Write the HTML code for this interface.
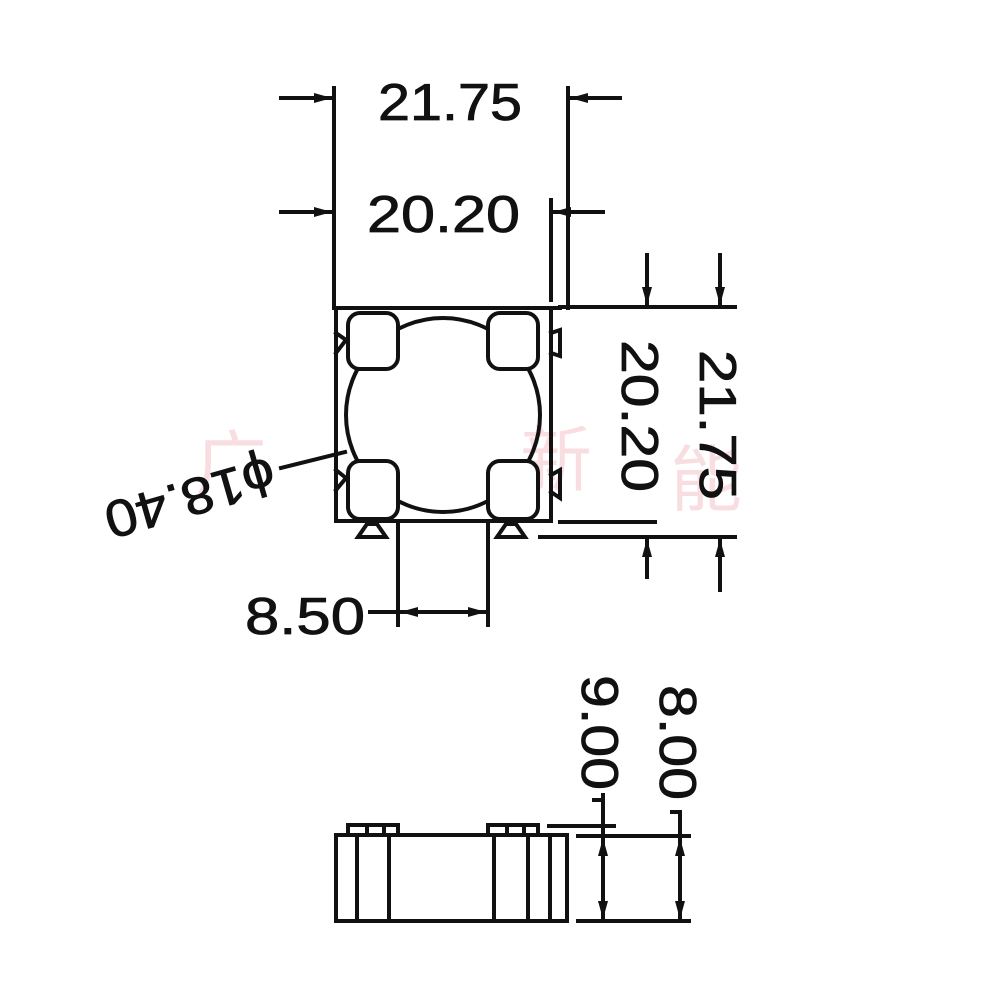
<!DOCTYPE html>
<html><head><style>html,body{margin:0;padding:0;background:#fff}</style></head><body>
<svg width="1001" height="1001" viewBox="0 0 1001 1001" xmlns="http://www.w3.org/2000/svg">
<rect width="1001" height="1001" fill="#fff"/>
<g font-family="Noto Sans CJK SC, sans-serif" fill="#f2b8bd" font-size="72" opacity="0.45">
<text x="195" y="490">广</text><text x="520" y="485">新</text><text x="670" y="505">能</text>
</g>
<g stroke="#111" stroke-width="4" fill="none" stroke-linecap="square">
<rect x="336" y="308" width="215" height="213"/>
<line x1="336" y1="308" x2="560" y2="308"/>
<circle cx="443" cy="415" r="97"/>
<rect x="348" y="313" width="50" height="56" rx="12" fill="#fff"/>
<rect x="488" y="313" width="50" height="56" rx="12" fill="#fff"/>
<rect x="348" y="461" width="50" height="58" rx="12" fill="#fff"/>
<rect x="488" y="461" width="50" height="58" rx="12" fill="#fff"/>
<polyline points="336,333 346,340 336,353"/>
<polyline points="336,470 346,478 336,490"/>
<polyline points="551,333 560,330 560,356 551,353"/>
<polyline points="551,475 560,470 560,498 551,492"/>
<polygon points="358,537 386,537 377,524 367,524"/>
<polygon points="497,537 525,537 516,524 506,524"/>
<line x1="334" y1="88" x2="334" y2="308"/>
<line x1="568" y1="88" x2="568" y2="308"/>
<line x1="551" y1="200" x2="551" y2="300"/>
<line x1="560" y1="307" x2="735" y2="307"/>
<line x1="560" y1="522" x2="655" y2="522"/>
<line x1="540" y1="537" x2="735" y2="537"/>
<line x1="398" y1="525" x2="398" y2="625"/>
<line x1="488" y1="525" x2="488" y2="625"/>
<line x1="370" y1="612" x2="488" y2="612"/>
<line x1="281" y1="468" x2="345" y2="452"/>
<line x1="281" y1="98" x2="330" y2="98"/>
<line x1="572" y1="98" x2="620" y2="98"/>
<line x1="281" y1="212" x2="330" y2="212"/>
<line x1="555" y1="212" x2="603" y2="212"/>
<line x1="647" y1="255" x2="647" y2="303"/>
<line x1="720" y1="255" x2="720" y2="303"/>
<line x1="647" y1="541" x2="647" y2="577"/>
<line x1="720" y1="541" x2="720" y2="590"/>
<rect x="336" y="835" width="231" height="86"/>
<line x1="357" y1="835" x2="357" y2="921"/>
<line x1="389" y1="835" x2="389" y2="921"/>
<line x1="494" y1="835" x2="494" y2="921"/>
<line x1="528" y1="835" x2="528" y2="921"/>
<line x1="550" y1="835" x2="550" y2="921"/>
<rect x="348" y="825" width="50" height="10"/>
<rect x="488" y="825" width="50" height="10"/>
<line x1="367" y1="825" x2="367" y2="835"/><line x1="384" y1="825" x2="384" y2="835"/>
<line x1="507" y1="825" x2="507" y2="835"/><line x1="524" y1="825" x2="524" y2="835"/>
<line x1="549" y1="826" x2="614" y2="826"/>
<line x1="578" y1="836" x2="689" y2="836"/>
<line x1="578" y1="921" x2="689" y2="921"/>
<line x1="603" y1="795" x2="603" y2="921"/>
<line x1="680" y1="812" x2="680" y2="921"/>
<line x1="594" y1="800" x2="603" y2="800"/>
<line x1="672" y1="812" x2="680" y2="812"/>
</g>
<g fill="#111">
<polygon points="332,98 314,93 314,103"/>
<polygon points="570,98 588,93 588,103"/>
<polygon points="332,212 314,207 314,217"/>
<polygon points="553,212 571,207 571,217"/>
<polygon points="647,305 642,287 652,287"/>
<polygon points="720,305 715,287 725,287"/>
<polygon points="647,539 642,557 652,557"/>
<polygon points="720,539 715,557 725,557"/>
<polygon points="400,612 418,607 418,617"/>
<polygon points="486,612 468,607 468,617"/>
<polygon points="603,838 598,856 608,856"/><polygon points="603,919 598,901 608,901"/>
<polygon points="680,838 675,856 685,856"/><polygon points="680,919 675,901 685,901"/>
</g>
<g font-family="Liberation Sans, DejaVu Sans, sans-serif" font-size="52" fill="#111" stroke="#111" stroke-width="0.8">
<text x="378" y="120" textLength="144" lengthAdjust="spacingAndGlyphs">21.75</text>
<text x="367" y="232" textLength="153" lengthAdjust="spacingAndGlyphs">20.20</text>
<text x="245" y="634" textLength="120" lengthAdjust="spacingAndGlyphs">8.50</text>
<text transform="translate(622,340) rotate(90)" textLength="152" lengthAdjust="spacingAndGlyphs">20.20</text>
<text transform="translate(700,350) rotate(90)" textLength="150" lengthAdjust="spacingAndGlyphs">21.75</text>
<text transform="translate(582,675) rotate(90)" textLength="115" lengthAdjust="spacingAndGlyphs">9.00</text>
<text transform="translate(660,685) rotate(90)" textLength="115" lengthAdjust="spacingAndGlyphs">8.00</text>
<text transform="translate(190,497) rotate(164)" text-anchor="middle" dominant-baseline="central" textLength="175" lengthAdjust="spacingAndGlyphs">ϕ18.40</text>
</g>
</svg>
</body></html>
